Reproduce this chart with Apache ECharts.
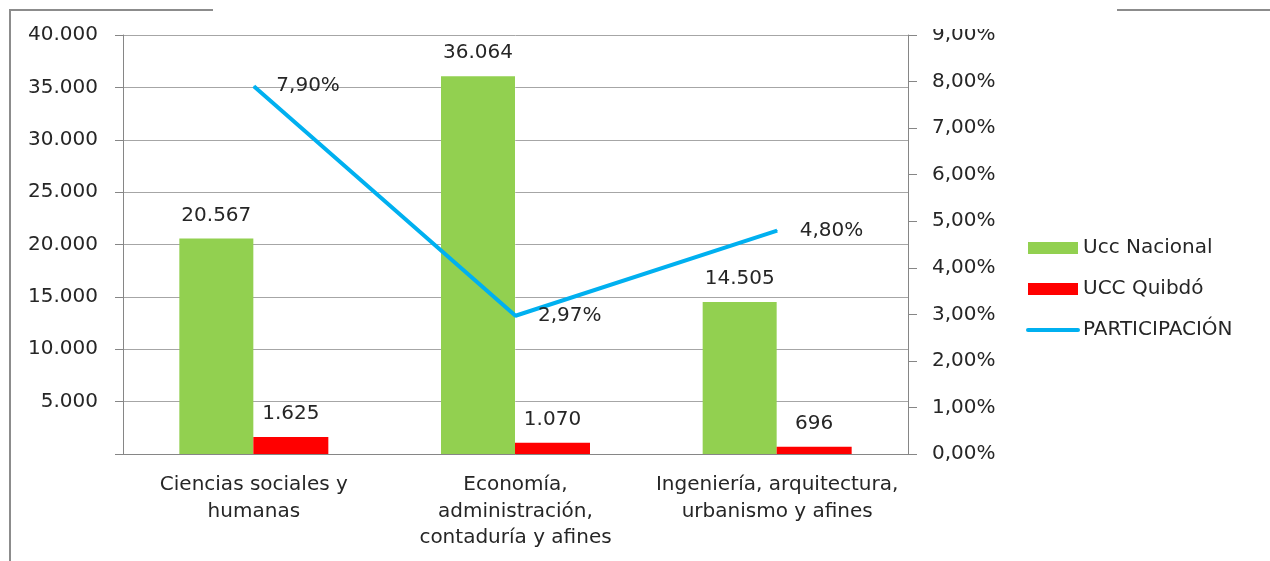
<!DOCTYPE html>
<html>
<head>
<meta charset="utf-8">
<script src="https://cdn.jsdelivr.net/npm/echarts@6/dist/echarts.min.js"></script>
<style>
  html, body { margin: 0; padding: 0; background: #fff; }
  #chart { width: 1270px; height: 561px; }
</style>
</head>
<body>
<div id="chart"></div>
<script>
const categories = [
  'Ciencias sociales y\nhumanas',
  'Economía,\nadministración,\ncontaduría y afines',
  'Ingeniería, arquitectura,\nurbanismo y afines'
]
const uccNacional = [20567, 36064, 14505]
const uccQuibdo = [1625, 1070, 696]
const participacion = [7.90, 2.97, 4.80] // percent

const FONT = '"DejaVu Sans", Verdana, sans-serif'
const TEXT = '#262626'

// 36064 -> "36.064"
const fmtThousands = (v) => String(Math.round(v)).replace(/\B(?=(\d{3})+(?!\d))/g, '.')
const fmtPct = (v) => v.toFixed(2).replace('.', ',') + '%'

const chart = echarts.init(document.getElementById('chart'))

const option = {
  animation: false,
  textStyle: { fontFamily: FONT, color: TEXT },
  grid: { left: 123, right: 362, top: 35, bottom: 107 },
  legend: {
    orient: 'vertical',
    left: 1026,
    top: 238,
    padding: 0,
    itemWidth: 50,
    itemHeight: 12,
    itemGap: 21,
    textStyle: { fontFamily: FONT, fontSize: 20, color: TEXT },
    data: [
      { name: 'Ucc Nacional', icon: 'rect' },
      { name: 'UCC Quibdó', icon: 'rect' },
      {
        name: 'PARTICIPACIÓN',
        itemStyle: { opacity: 0 },
        lineStyle: { width: 4, cap: 'round', color: '#00B0F0' }
      }
    ]
  },
  xAxis: {
    type: 'category',
    data: categories,
    axisLine: { lineStyle: { color: '#868686' } },
    axisTick: { length: 8, lineStyle: { color: '#868686' } },
    axisLabel: {
      interval: 0,
      margin: 18,
      fontFamily: FONT,
      fontSize: 20,
      lineHeight: 26.5,
      color: TEXT,
      align: 'center'
    }
  },
  yAxis: [
    {
      type: 'value',
      min: 0,
      max: 40000,
      interval: 5000,
      axisLine: { show: true, lineStyle: { color: '#868686' } },
      axisTick: { show: true, length: 8, lineStyle: { color: '#868686' } },
      splitLine: { lineStyle: { color: '#a6a6a6' } },
      axisLabel: {
        margin: 25,
        fontFamily: FONT,
        fontSize: 20,
        color: TEXT,
        formatter: (v) => (v === 0 ? '' : fmtThousands(v))
      }
    },
    {
      type: 'value',
      min: 0,
      max: 9,
      interval: 1,
      position: 'right',
      axisLine: { show: true, lineStyle: { color: '#868686' } },
      axisTick: { show: true, length: 9, lineStyle: { color: '#868686' } },
      splitLine: { show: false },
      axisLabel: {
        margin: 24,
        fontFamily: FONT,
        fontSize: 20,
        color: TEXT,
        formatter: (v) => fmtPct(v)
      }
    }
  ],
  series: [
    {
      name: 'Ucc Nacional',
      type: 'bar',
      data: uccNacional,
      barWidth: 74,
      barGap: '0%',
      itemStyle: { color: '#92D050' },
      label: {
        show: true,
        position: 'top',
        distance: 13,
        fontFamily: FONT,
        fontSize: 20,
        color: TEXT,
        formatter: (p) => fmtThousands(p.value)
      }
    },
    {
      name: 'UCC Quibdó',
      type: 'bar',
      data: uccQuibdo,
      barWidth: 75,
      itemStyle: { color: '#FF0000' },
      label: {
        show: true,
        position: 'top',
        distance: 13,
        fontFamily: FONT,
        fontSize: 20,
        color: TEXT,
        formatter: (p) => fmtThousands(p.value)
      }
    },
    {
      name: 'PARTICIPACIÓN',
      type: 'line',
      yAxisIndex: 1,
      data: participacion,
      symbol: 'circle',
      symbolSize: 1,
      showSymbol: true,
      z: 5,
      lineStyle: { color: '#00B0F0', width: 4 },
      itemStyle: { color: '#00B0F0' },
      label: {
        show: true,
        position: 'right',
        distance: 22,
        fontFamily: FONT,
        fontSize: 20,
        color: TEXT,
        formatter: (p) => fmtPct(p.value)
      }
    }
  ],
  graphic: [
    // title area that masks the top of the frame
    { type: 'rect', z: 100, shape: { x: 213, y: 0, width: 904, height: 29 }, style: { fill: '#fff' } },
    { type: 'line', z: 101, shape: { x1: 10, y1: 10, x2: 213, y2: 10 }, style: { stroke: '#8c8c8c', lineWidth: 2 } },
    { type: 'line', z: 101, shape: { x1: 1117, y1: 10, x2: 1270, y2: 10 }, style: { stroke: '#8c8c8c', lineWidth: 2 } },
    { type: 'line', z: 101, shape: { x1: 10, y1: 9, x2: 10, y2: 561 }, style: { stroke: '#8c8c8c', lineWidth: 2 } }
  ]
}

chart.setOption(option)
</script>
</body>
</html>
